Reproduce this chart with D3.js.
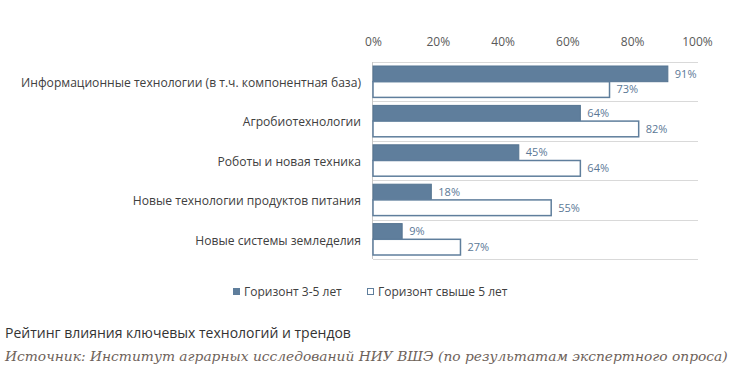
<!DOCTYPE html>
<html>
<head>
<meta charset="utf-8">
<script src="https://cdn.jsdelivr.net/npm/d3@7"></script>
<style>
  body { margin: 0; background: #fff; }
  text { font-family: "Open Sans", "DejaVu Sans", sans-serif; }
</style>
</head>
<body>
<div id="chart"></div>
<script>
var width = 750;
var height = 385;

var categories = [
    "Информационные технологии (в т.ч. компонентная база)",
    "Агробиотехнологии",
    "Роботы и новая техника",
    "Новые технологии продуктов питания",
    "Новые системы земледелия"
];
var seriesNames = ["Горизонт 3-5 лет", "Горизонт свыше 5 лет"];
var near = [91, 64, 45, 18, 9];
var far = [73, 82, 64, 55, 27];
var ticks = [0, 20, 40, 60, 80, 100];

var barColor = "#5f7e9c";

var svg = d3.select("#chart")
    .append("svg")
    .attr("width", width)
    .attr("height", height);

var xScale = d3.scaleLinear().domain([0, 100]).range([373, 697]);
var yScale = d3.scaleBand().domain(categories).range([62, 259]);
var sub = d3.scaleBand().domain(seriesNames).range([4, yScale.bandwidth() - 4]);

// top axis with percent labels
var xAxis = d3.axisTop(xScale)
    .tickValues(ticks)
    .tickSize(0)
    .tickFormat(function(d) { return d + "%"; });

var ax = svg.append("g")
    .attr("transform", "translate(0,49)")
    .call(xAxis);
ax.select(".domain").remove();
ax.selectAll("text")
    .attr("fill", "#595959")
    .style("font-size", "12px");

// row separators
svg.append("g")
    .selectAll("line")
    .data(categories.concat(["end"]))
    .enter()
    .append("line")
    .attr("x1", xScale(0))
    .attr("x2", xScale(100) + 1)
    .attr("y1", function(d, i) { return Math.round(62 + i * yScale.step()) + 0.5; })
    .attr("y2", function(d, i) { return Math.round(62 + i * yScale.step()) + 0.5; })
    .attr("stroke", "#d9d9d9")
    .attr("stroke-width", 1);

svg.append("line")
    .attr("x1", xScale(0) - 0.5)
    .attr("x2", xScale(0) - 0.5)
    .attr("y1", 62)
    .attr("y2", 259)
    .attr("stroke", "#c8c8c8");

// category labels
svg.append("g")
    .selectAll("text")
    .data(categories)
    .enter()
    .append("text")
    .attr("x", 361)
    .attr("y", function(d) { return yScale(d) + yScale.bandwidth() / 2 + 1; })
    .attr("dy", "0.35em")
    .attr("text-anchor", "end")
    .attr("fill", "#404040")
    .style("font-size", "12.1px")
    .text(function(d) { return d; });

var rows = categories.map(function(c, i) {
    return { cat: c, values: [near[i], far[i]] };
});

var groups = svg.append("g")
    .selectAll(".row")
    .data(rows)
    .enter()
    .append("g")
    .attr("class", "row")
    .attr("transform", function(d) { return "translate(0," + yScale(d.cat) + ")"; });

groups.selectAll("rect")
    .data(function(d) { return d.values.map(function(v, j) { return { s: seriesNames[j], v: v }; }); })
    .enter()
    .append("rect")
    .attr("x", xScale(0))
    .attr("y", function(d) { return sub(d.s); })
    .attr("width", function(d) { return xScale(d.v) - xScale(0); })
    .attr("height", sub.bandwidth())
    .attr("fill", function(d, j) { return j === 0 ? barColor : "#fff"; })
    .attr("stroke", function(d, j) { return j === 0 ? "#557491" : barColor; })
    .attr("stroke-width", function(d, j) { return j === 0 ? 1 : 1.5; });

groups.selectAll(".val")
    .data(function(d) { return d.values.map(function(v, j) { return { s: seriesNames[j], v: v }; }); })
    .enter()
    .append("text")
    .attr("class", "val")
    .attr("x", function(d) { return xScale(d.v) + 7; })
    .attr("y", function(d) { return sub(d.s) + sub.bandwidth() / 2; })
    .attr("dy", "0.35em")
    .attr("fill", "#5b7896")
    .style("font-size", "11px")
    .text(function(d) { return d.v + "%"; });

// legend
var legendX = [233, 367];
var legend = svg.append("g")
    .selectAll("g")
    .data(seriesNames)
    .enter()
    .append("g")
    .attr("transform", function(d, i) { return "translate(" + legendX[i] + ",288)"; });

legend.append("rect")
    .attr("x", 0.5)
    .attr("y", 0.5)
    .attr("width", 6)
    .attr("height", 6)
    .attr("fill", function(d, i) { return i === 0 ? barColor : "#fff"; })
    .attr("stroke", barColor);

legend.append("text")
    .attr("x", 11)
    .attr("y", 4)
    .attr("dy", "0.35em")
    .attr("fill", "#404040")
    .style("font-size", "12px")
    .text(function(d) { return d; });

// caption
svg.append("text")
    .attr("x", 5)
    .attr("y", 338)
    .attr("fill", "#333")
    .style("font-size", "14px")
    .text("Рейтинг влияния ключевых технологий и трендов");

svg.append("text")
    .attr("x", 5)
    .attr("y", 361)
    .attr("fill", "#6e625a")
    .style("font-family", "'DejaVu Serif', serif")
    .style("font-style", "italic")
    .style("font-size", "13.8px")
    .text("Источник: Институт аграрных исследований НИУ ВШЭ (по результатам экспертного опроса)");
</script>
</body>
</html>
